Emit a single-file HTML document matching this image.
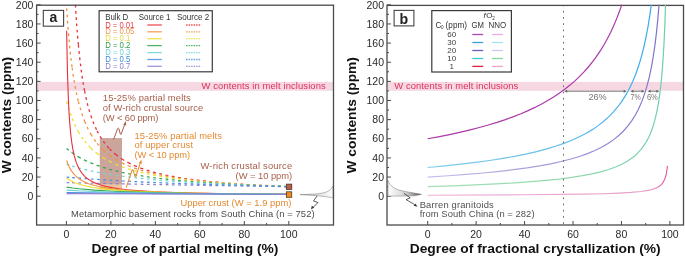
<!DOCTYPE html>
<html><head><meta charset="utf-8"><style>
html,body{margin:0;padding:0;background:#fff;}
svg{display:block;will-change:transform;}
</style></head><body>
<svg width="685" height="257" viewBox="0 0 685 257">
<rect width="685" height="257" fill="#fff"/>
<rect x="37" y="81.9" width="296" height="8.9" fill="#f5d8e2"/>
<rect x="388" y="81.9" width="295" height="8.9" fill="#f5d8e2"/>
<rect x="99.76" y="138.1" width="22.24" height="46.62" fill="#cba59b"/>
<rect x="99.76" y="184.72" width="22.24" height="4.78" fill="#eec49a"/>
<path d="M75.39,4.8 L76.69,24.69 L78.37,44.97 M78.37,44.97 L79.6,57.03 L81.21,70.15 L82.92,81.65 L84.61,91.07 M84.61,91.07 L86.01,97.82 L87.66,104.73 L89.03,109.79 L90.84,115.64 M90.84,115.64 L93.83,123.76 L97.08,130.9 M97.08,130.9 L100,136.23 L103.31,141.29 M103.31,141.29 L106.39,145.3 L109.55,148.84 M109.55,148.84 L112.36,151.6 L115.78,154.56 M115.78,154.56 L118.78,156.84 L122.02,159.04 M122.02,159.04 L125.07,160.91 L128.25,162.66 M128.25,162.66 L134.49,165.63 M134.49,165.63 L140.72,168.12 M140.72,168.12 L146.96,170.24 M146.96,170.24 L153.19,172.05 M153.19,172.05 L159.43,173.63 M159.43,173.63 L165.66,175.02 M165.66,175.02 L171.9,176.25 M171.9,176.25 L178.13,177.34 M178.13,177.34 L184.37,178.32 M184.37,178.32 L190.6,179.2 M190.6,179.2 L196.84,180 M196.84,180 L203.07,180.72 M203.07,180.72 L209.31,181.39 M209.31,181.39 L215.54,182 M215.54,182 L221.78,182.56 M221.78,182.56 L228.01,183.08 M228.01,183.08 L234.25,183.56 M234.25,183.56 L240.48,184.01 M240.48,184.01 L246.72,184.42 M246.72,184.42 L252.95,184.81 M252.95,184.81 L259.19,185.18 M259.19,185.18 L265.42,185.52 M265.42,185.52 L271.66,185.84 M271.66,185.84 L277.89,186.14 M277.89,186.14 L284.12,186.43 M284.12,186.43 L288.8,186.63" fill="none" stroke="#e8303c" stroke-width="1.3" stroke-dasharray="2.7 3.535"/>
<path d="M66.62,8.37 L67.8,25.29 L69.12,40.88 L70.56,55.03 L72.14,67.74 M72.14,67.74 L73.42,76.58 L74.97,85.7 L76.69,94.34 L78.37,101.57 M78.37,101.57 L81.21,111.7 L82.92,116.83 L84.61,121.29 M84.61,121.29 L87.66,128.23 L90.84,134.22 M90.84,134.22 L93.83,138.95 L97.08,143.34 M97.08,143.34 L100,146.75 L103.31,150.11 M103.31,150.11 L106.39,152.86 L109.55,155.35 M109.55,155.35 L112.36,157.35 L115.78,159.52 M115.78,159.52 L122.02,162.92 M122.02,162.92 L128.25,165.74 M128.25,165.74 L134.49,168.12 M134.49,168.12 L140.72,170.16 M140.72,170.16 L146.96,171.92 M146.96,171.92 L153.19,173.45 M153.19,173.45 L159.43,174.81 M159.43,174.81 L165.66,176.01 M165.66,176.01 L171.9,177.08 M171.9,177.08 L178.13,178.05 M178.13,178.05 L184.37,178.92 M184.37,178.92 L190.6,179.71 M190.6,179.71 L196.84,180.44 M196.84,180.44 L203.07,181.1 M203.07,181.1 L209.31,181.71 M209.31,181.71 L215.54,182.27 M215.54,182.27 L221.78,182.79 M221.78,182.79 L228.01,183.27 M228.01,183.27 L234.25,183.72 M234.25,183.72 L240.48,184.14 M240.48,184.14 L246.72,184.53 M246.72,184.53 L252.95,184.9 M252.95,184.9 L259.19,185.24 M259.19,185.24 L265.42,185.57 M265.42,185.57 L271.66,185.87 M271.66,185.87 L277.89,186.16 M277.89,186.16 L284.12,186.43 M284.12,186.43 L288.8,186.63" fill="none" stroke="#f0913e" stroke-width="1.3" stroke-dasharray="2.7 3.535"/>
<path d="M66.62,101.35 L69.23,110.32 L72.14,118.53 M72.14,118.53 L75.17,125.58 L78.37,131.73 M78.37,131.73 L81.49,136.78 L84.61,141.1 M84.61,141.1 L87.66,144.76 L90.84,148.09 M90.84,148.09 L93.83,150.85 L97.08,153.5 M97.08,153.5 L100,155.65 L103.31,157.82 M103.31,157.82 L109.55,161.35 M109.55,161.35 L115.78,164.28 M115.78,164.28 L122.02,166.76 M122.02,166.76 L128.25,168.88 M128.25,168.88 L134.49,170.72 M134.49,170.72 L140.72,172.32 M140.72,172.32 L146.96,173.73 M146.96,173.73 L153.19,174.99 M153.19,174.99 L159.43,176.11 M159.43,176.11 L165.66,177.12 M165.66,177.12 L171.9,178.04 M171.9,178.04 L178.13,178.87 M178.13,178.87 L184.37,179.62 M184.37,179.62 L190.6,180.32 M190.6,180.32 L196.84,180.96 M196.84,180.96 L203.07,181.55 M203.07,181.55 L209.31,182.09 M209.31,182.09 L215.54,182.6 M215.54,182.6 L221.78,183.07 M221.78,183.07 L228.01,183.51 M228.01,183.51 L234.25,183.92 M234.25,183.92 L240.48,184.3 M240.48,184.3 L246.72,184.67 M246.72,184.67 L252.95,185.01 M252.95,185.01 L259.19,185.33 M259.19,185.33 L265.42,185.63 M265.42,185.63 L271.66,185.92 M271.66,185.92 L277.89,186.19 M277.89,186.19 L284.12,186.45 M284.12,186.45 L288.8,186.63" fill="none" stroke="#eedd2e" stroke-width="1.3" stroke-dasharray="2.7 3.535"/>
<path d="M66.62,148.54 L72.14,152.82 M72.14,152.82 L75.17,154.87 L78.37,156.83 M78.37,156.83 L84.61,160.15 M84.61,160.15 L90.84,162.96 M90.84,162.96 L97.08,165.36 M97.08,165.36 L103.31,167.44 M103.31,167.44 L109.55,169.26 M109.55,169.26 L115.78,170.86 M115.78,170.86 L122.02,172.28 M122.02,172.28 L128.25,173.55 M128.25,173.55 L134.49,174.69 M134.49,174.69 L140.72,175.72 M140.72,175.72 L146.96,176.66 M146.96,176.66 L153.19,177.52 M153.19,177.52 L159.43,178.3 M159.43,178.3 L165.66,179.02 M165.66,179.02 L171.9,179.69 M171.9,179.69 L178.13,180.3 M178.13,180.3 L184.37,180.87 M184.37,180.87 L190.6,181.4 M190.6,181.4 L196.84,181.9 M196.84,181.9 L203.07,182.36 M203.07,182.36 L209.31,182.8 M209.31,182.8 L215.54,183.21 M215.54,183.21 L221.78,183.59 M221.78,183.59 L228.01,183.95 M228.01,183.95 L234.25,184.29 M234.25,184.29 L240.48,184.62 M240.48,184.62 L246.72,184.92 M246.72,184.92 L252.95,185.21 M252.95,185.21 L259.19,185.49 M259.19,185.49 L265.42,185.75 M265.42,185.75 L271.66,186 M271.66,186 L277.89,186.24 M277.89,186.24 L284.12,186.47 M284.12,186.47 L288.8,186.63" fill="none" stroke="#2fa84c" stroke-width="1.3" stroke-dasharray="2.7 3.535"/>
<path d="M66.62,164.37 L72.14,166.11 M72.14,166.11 L78.37,167.86 M78.37,167.86 L84.61,169.42 M84.61,169.42 L90.84,170.81 M90.84,170.81 L97.08,172.07 M97.08,172.07 L103.31,173.2 M103.31,173.2 L109.55,174.24 M109.55,174.24 L115.78,175.19 M115.78,175.19 L122.02,176.05 M122.02,176.05 L128.25,176.85 M128.25,176.85 L134.49,177.59 M134.49,177.59 L140.72,178.28 M140.72,178.28 L146.96,178.91 M146.96,178.91 L153.19,179.5 M153.19,179.5 L159.43,180.06 M159.43,180.06 L165.66,180.57 M165.66,180.57 L171.9,181.06 M171.9,181.06 L178.13,181.51 M178.13,181.51 L184.37,181.94 M184.37,181.94 L190.6,182.35 M190.6,182.35 L196.84,182.73 M196.84,182.73 L203.07,183.09 M203.07,183.09 L209.31,183.44 M209.31,183.44 L215.54,183.76 M215.54,183.76 L221.78,184.07 M221.78,184.07 L228.01,184.37 M228.01,184.37 L234.25,184.65 M234.25,184.65 L240.48,184.91 M240.48,184.91 L246.72,185.17 M246.72,185.17 L252.95,185.41 M252.95,185.41 L259.19,185.65 M259.19,185.65 L265.42,185.87 M265.42,185.87 L271.66,186.08 M271.66,186.08 L277.89,186.29 M277.89,186.29 L284.12,186.49 M284.12,186.49 L288.8,186.63" fill="none" stroke="#6fd2d6" stroke-width="1.3" stroke-dasharray="2.7 3.535"/>
<path d="M66.62,182.53 L72.14,182.68 M72.14,182.68 L78.37,182.84 M78.37,182.84 L84.61,182.99 M84.61,182.99 L90.84,183.14 M90.84,183.14 L97.08,183.29 M97.08,183.29 L103.31,183.44 M103.31,183.44 L109.55,183.58 M109.55,183.58 L115.78,183.72 M115.78,183.72 L122.02,183.85 M122.02,183.85 L128.25,183.98 M128.25,183.98 L134.49,184.11 M134.49,184.11 L140.72,184.24 M140.72,184.24 L146.96,184.37 M146.96,184.37 L153.19,184.49 M153.19,184.49 L159.43,184.61 M159.43,184.61 L165.66,184.72 M165.66,184.72 L171.9,184.84 M171.9,184.84 L178.13,184.95 M178.13,184.95 L184.37,185.06 M184.37,185.06 L190.6,185.17 M190.6,185.17 L196.84,185.27 M196.84,185.27 L203.07,185.38 M203.07,185.38 L209.31,185.48 M209.31,185.48 L215.54,185.58 M215.54,185.58 L221.78,185.68 M221.78,185.68 L228.01,185.78 M228.01,185.78 L234.25,185.87 M234.25,185.87 L240.48,185.96 M240.48,185.96 L246.72,186.05 M246.72,186.05 L252.95,186.14 M252.95,186.14 L259.19,186.23 M259.19,186.23 L265.42,186.32 M265.42,186.32 L271.66,186.4 M271.66,186.4 L277.89,186.49 M277.89,186.49 L284.12,186.57 M284.12,186.57 L288.8,186.63" fill="none" stroke="#8f82d2" stroke-width="1.3" stroke-dasharray="2.7 3.535"/>
<path d="M66.62,177.08 L72.14,177.54 M72.14,177.54 L78.37,178.04 M78.37,178.04 L84.61,178.51 M84.61,178.51 L90.84,178.96 M90.84,178.96 L97.08,179.38 M97.08,179.38 L103.31,179.78 M103.31,179.78 L109.55,180.17 M109.55,180.17 L115.78,180.54 M115.78,180.54 L122.02,180.89 M122.02,180.89 L128.25,181.22 M128.25,181.22 L134.49,181.55 M134.49,181.55 L140.72,181.85 M140.72,181.85 L146.96,182.15 M146.96,182.15 L153.19,182.43 M153.19,182.43 L159.43,182.7 M159.43,182.7 L165.66,182.97 M165.66,182.97 L171.9,183.22 M171.9,183.22 L178.13,183.46 M178.13,183.46 L184.37,183.69 M184.37,183.69 L190.6,183.92 M190.6,183.92 L196.84,184.14 M196.84,184.14 L203.07,184.35 M203.07,184.35 L209.31,184.55 M209.31,184.55 L215.54,184.74 M215.54,184.74 L221.78,184.93 M221.78,184.93 L228.01,185.12 M228.01,185.12 L234.25,185.29 M234.25,185.29 L240.48,185.46 M240.48,185.46 L246.72,185.63 M246.72,185.63 L252.95,185.79 M252.95,185.79 L259.19,185.95 M259.19,185.95 L265.42,186.1 M265.42,186.1 L271.66,186.25 M271.66,186.25 L277.89,186.39 M277.89,186.39 L284.12,186.53 M284.12,186.53 L288.8,186.63" fill="none" stroke="#4a90de" stroke-width="1.3" stroke-dasharray="2.7 3.535"/>
<path d="M66.62,30.75 L67.42,71.25 L68.44,100.88 L69.12,113.94 L69.8,123.82 L70.7,133.82 L71.73,142.29 L72.89,149.43 L74.17,155.44 L75.81,161.15 L77.61,165.86 L79.6,169.76 L82.05,173.38 L84.74,176.36 L87.66,178.82 L91.18,181.09 L95.41,183.13 L100,184.81 L105.44,186.31 L111.84,187.63 L118.78,188.72 L127.46,189.75 L136.87,190.58 L147.72,191.31 L160.2,191.95 L191.64,193 L233.29,193.78 L288.8,194.38" fill="none" stroke="#e8303c" stroke-width="1.1"/>
<path d="M66.62,160.51 L67.8,163.73 L69.12,166.69 L70.56,169.38 L72.05,171.67 L73.79,173.91 L75.59,175.83 L77.61,177.63 L79.86,179.29 L82.34,180.8 L85.05,182.18 L88,183.42 L91.18,184.53 L94.61,185.54 L98.72,186.53 L107.36,188.12 L118.23,189.5 L131.13,190.63 L147.02,191.59 L165.62,192.36 L188.1,193.01 L216.04,193.56 L288.8,194.38" fill="none" stroke="#f0913e" stroke-width="1.1"/>
<path d="M66.62,178.18 L70.43,180.57 L74.97,182.7 L80.13,184.51 L86.01,186.06 L93.06,187.45 L100.88,188.61 L109.82,189.6 L120.46,190.5 L132.38,191.25 L146.32,191.91 L181.18,192.98 L227.08,193.78 L288.8,194.38" fill="none" stroke="#eedd2e" stroke-width="1.1"/>
<path d="M66.62,187.14 L72.54,188.01 L79.09,188.8 L94.22,190.14 L112.87,191.25 L135.57,192.15 L163.28,192.88 L197.06,193.49 L238.56,193.98 L288.8,194.38" fill="none" stroke="#2fa84c" stroke-width="1.1"/>
<path d="M66.62,190.15 L82.05,190.99 L100,191.72 L121.02,192.35 L145.62,192.89 L206.38,193.74 L288.8,194.38" fill="none" stroke="#6fd2d6" stroke-width="1.1"/>
<path d="M66.62,192.57 L108.82,193.15 L158.68,193.63 L288.8,194.38" fill="none" stroke="#4a90de" stroke-width="1.1"/>
<path d="M66.62,193.6 L288.8,194.38" fill="none" stroke="#8f82d2" stroke-width="1.1"/>
<rect x="286.3" y="184.1" width="5.5" height="5.5" fill="#bc5e46" stroke="#3a2a20" stroke-width="0.7"/>
<rect x="286.3" y="191.8" width="5.5" height="5.5" fill="#f08c1e" stroke="#3a2a20" stroke-width="0.7"/>
<defs><linearGradient id="ga" x1="1" x2="0" y1="0" y2="0"><stop offset="0" stop-color="#ffffff"/><stop offset="1" stop-color="#bdbdbd"/></linearGradient><linearGradient id="gb" x1="0" x2="1" y1="0" y2="0"><stop offset="0" stop-color="#ffffff"/><stop offset="0.55" stop-color="#d0d0d0"/><stop offset="1" stop-color="#555555"/></linearGradient></defs>
<path d="M333,186 C331,191 326,193 316,194 L300,194.6 L316,195.6 C324,196.5 330,197 333,198 Z" fill="url(#ga)" stroke="#777" stroke-width="0.5"/>
<path d="M317,196 L313.5,201 L318,202.5 L312.5,208" fill="none" stroke="#333" stroke-width="0.8"/>
<path d="M311,209.5 L311.8,205.8 L314.2,207.6 Z" fill="#333"/>
<rect x="36.6" y="5.2" width="296.9" height="219.8" fill="none" stroke="#4a4a4a" stroke-width="1.3"/>
<rect x="387" y="5.4" width="296.5" height="219.6" fill="none" stroke="#4a4a4a" stroke-width="1.3"/>
<line x1="36.6" y1="196.2" x2="40.6" y2="196.2" stroke="#4a4a4a" stroke-width="1"/>
<line x1="36.6" y1="186.63" x2="38.6" y2="186.63" stroke="#4a4a4a" stroke-width="1"/>
<line x1="36.6" y1="177.06" x2="40.6" y2="177.06" stroke="#4a4a4a" stroke-width="1"/>
<line x1="36.6" y1="167.49" x2="38.6" y2="167.49" stroke="#4a4a4a" stroke-width="1"/>
<line x1="36.6" y1="157.92" x2="40.6" y2="157.92" stroke="#4a4a4a" stroke-width="1"/>
<line x1="36.6" y1="148.35" x2="38.6" y2="148.35" stroke="#4a4a4a" stroke-width="1"/>
<line x1="36.6" y1="138.78" x2="40.6" y2="138.78" stroke="#4a4a4a" stroke-width="1"/>
<line x1="36.6" y1="129.21" x2="38.6" y2="129.21" stroke="#4a4a4a" stroke-width="1"/>
<line x1="36.6" y1="119.64" x2="40.6" y2="119.64" stroke="#4a4a4a" stroke-width="1"/>
<line x1="36.6" y1="110.07" x2="38.6" y2="110.07" stroke="#4a4a4a" stroke-width="1"/>
<line x1="36.6" y1="100.5" x2="40.6" y2="100.5" stroke="#4a4a4a" stroke-width="1"/>
<line x1="36.6" y1="90.93" x2="38.6" y2="90.93" stroke="#4a4a4a" stroke-width="1"/>
<line x1="36.6" y1="81.36" x2="40.6" y2="81.36" stroke="#4a4a4a" stroke-width="1"/>
<line x1="36.6" y1="71.79" x2="38.6" y2="71.79" stroke="#4a4a4a" stroke-width="1"/>
<line x1="36.6" y1="62.22" x2="40.6" y2="62.22" stroke="#4a4a4a" stroke-width="1"/>
<line x1="36.6" y1="52.65" x2="38.6" y2="52.65" stroke="#4a4a4a" stroke-width="1"/>
<line x1="36.6" y1="43.08" x2="40.6" y2="43.08" stroke="#4a4a4a" stroke-width="1"/>
<line x1="36.6" y1="33.51" x2="38.6" y2="33.51" stroke="#4a4a4a" stroke-width="1"/>
<line x1="36.6" y1="23.94" x2="40.6" y2="23.94" stroke="#4a4a4a" stroke-width="1"/>
<line x1="36.6" y1="14.37" x2="38.6" y2="14.37" stroke="#4a4a4a" stroke-width="1"/>
<line x1="36.6" y1="4.8" x2="40.6" y2="4.8" stroke="#4a4a4a" stroke-width="1"/>
<line x1="387" y1="196.2" x2="391" y2="196.2" stroke="#4a4a4a" stroke-width="1"/>
<line x1="387" y1="186.63" x2="389" y2="186.63" stroke="#4a4a4a" stroke-width="1"/>
<line x1="387" y1="177.06" x2="391" y2="177.06" stroke="#4a4a4a" stroke-width="1"/>
<line x1="387" y1="167.49" x2="389" y2="167.49" stroke="#4a4a4a" stroke-width="1"/>
<line x1="387" y1="157.92" x2="391" y2="157.92" stroke="#4a4a4a" stroke-width="1"/>
<line x1="387" y1="148.35" x2="389" y2="148.35" stroke="#4a4a4a" stroke-width="1"/>
<line x1="387" y1="138.78" x2="391" y2="138.78" stroke="#4a4a4a" stroke-width="1"/>
<line x1="387" y1="129.21" x2="389" y2="129.21" stroke="#4a4a4a" stroke-width="1"/>
<line x1="387" y1="119.64" x2="391" y2="119.64" stroke="#4a4a4a" stroke-width="1"/>
<line x1="387" y1="110.07" x2="389" y2="110.07" stroke="#4a4a4a" stroke-width="1"/>
<line x1="387" y1="100.5" x2="391" y2="100.5" stroke="#4a4a4a" stroke-width="1"/>
<line x1="387" y1="90.93" x2="389" y2="90.93" stroke="#4a4a4a" stroke-width="1"/>
<line x1="387" y1="81.36" x2="391" y2="81.36" stroke="#4a4a4a" stroke-width="1"/>
<line x1="387" y1="71.79" x2="389" y2="71.79" stroke="#4a4a4a" stroke-width="1"/>
<line x1="387" y1="62.22" x2="391" y2="62.22" stroke="#4a4a4a" stroke-width="1"/>
<line x1="387" y1="52.65" x2="389" y2="52.65" stroke="#4a4a4a" stroke-width="1"/>
<line x1="387" y1="43.08" x2="391" y2="43.08" stroke="#4a4a4a" stroke-width="1"/>
<line x1="387" y1="33.51" x2="389" y2="33.51" stroke="#4a4a4a" stroke-width="1"/>
<line x1="387" y1="23.94" x2="391" y2="23.94" stroke="#4a4a4a" stroke-width="1"/>
<line x1="387" y1="14.37" x2="389" y2="14.37" stroke="#4a4a4a" stroke-width="1"/>
<line x1="387" y1="4.8" x2="391" y2="4.8" stroke="#4a4a4a" stroke-width="1"/>
<line x1="66.4" y1="225" x2="66.4" y2="221" stroke="#4a4a4a" stroke-width="1"/>
<line x1="88.64" y1="225" x2="88.64" y2="223" stroke="#4a4a4a" stroke-width="1"/>
<line x1="110.88" y1="225" x2="110.88" y2="221" stroke="#4a4a4a" stroke-width="1"/>
<line x1="133.12" y1="225" x2="133.12" y2="223" stroke="#4a4a4a" stroke-width="1"/>
<line x1="155.36" y1="225" x2="155.36" y2="221" stroke="#4a4a4a" stroke-width="1"/>
<line x1="177.6" y1="225" x2="177.6" y2="223" stroke="#4a4a4a" stroke-width="1"/>
<line x1="199.84" y1="225" x2="199.84" y2="221" stroke="#4a4a4a" stroke-width="1"/>
<line x1="222.08" y1="225" x2="222.08" y2="223" stroke="#4a4a4a" stroke-width="1"/>
<line x1="244.32" y1="225" x2="244.32" y2="221" stroke="#4a4a4a" stroke-width="1"/>
<line x1="266.56" y1="225" x2="266.56" y2="223" stroke="#4a4a4a" stroke-width="1"/>
<line x1="288.8" y1="225" x2="288.8" y2="221" stroke="#4a4a4a" stroke-width="1"/>
<line x1="427.7" y1="225" x2="427.7" y2="221" stroke="#4a4a4a" stroke-width="1"/>
<line x1="451.92" y1="225" x2="451.92" y2="223" stroke="#4a4a4a" stroke-width="1"/>
<line x1="476.14" y1="225" x2="476.14" y2="221" stroke="#4a4a4a" stroke-width="1"/>
<line x1="500.36" y1="225" x2="500.36" y2="223" stroke="#4a4a4a" stroke-width="1"/>
<line x1="524.58" y1="225" x2="524.58" y2="221" stroke="#4a4a4a" stroke-width="1"/>
<line x1="548.8" y1="225" x2="548.8" y2="223" stroke="#4a4a4a" stroke-width="1"/>
<line x1="573.02" y1="225" x2="573.02" y2="221" stroke="#4a4a4a" stroke-width="1"/>
<line x1="597.24" y1="225" x2="597.24" y2="223" stroke="#4a4a4a" stroke-width="1"/>
<line x1="621.46" y1="225" x2="621.46" y2="221" stroke="#4a4a4a" stroke-width="1"/>
<line x1="645.68" y1="225" x2="645.68" y2="223" stroke="#4a4a4a" stroke-width="1"/>
<line x1="669.9" y1="225" x2="669.9" y2="221" stroke="#4a4a4a" stroke-width="1"/>
<text x="33.4" y="199.9" text-anchor="end" font-family="Liberation Sans" font-size="10.5" fill="#2a2a2a">0</text>
<text x="33.4" y="180.76" text-anchor="end" font-family="Liberation Sans" font-size="10.5" fill="#2a2a2a">20</text>
<text x="33.4" y="161.62" text-anchor="end" font-family="Liberation Sans" font-size="10.5" fill="#2a2a2a">40</text>
<text x="33.4" y="142.48" text-anchor="end" font-family="Liberation Sans" font-size="10.5" fill="#2a2a2a">60</text>
<text x="33.4" y="123.34" text-anchor="end" font-family="Liberation Sans" font-size="10.5" fill="#2a2a2a">80</text>
<text x="33.4" y="104.2" text-anchor="end" font-family="Liberation Sans" font-size="10.5" fill="#2a2a2a">100</text>
<text x="33.4" y="85.06" text-anchor="end" font-family="Liberation Sans" font-size="10.5" fill="#2a2a2a">120</text>
<text x="33.4" y="65.92" text-anchor="end" font-family="Liberation Sans" font-size="10.5" fill="#2a2a2a">140</text>
<text x="33.4" y="46.78" text-anchor="end" font-family="Liberation Sans" font-size="10.5" fill="#2a2a2a">160</text>
<text x="33.4" y="27.64" text-anchor="end" font-family="Liberation Sans" font-size="10.5" fill="#2a2a2a">180</text>
<text x="33.4" y="8.5" text-anchor="end" font-family="Liberation Sans" font-size="10.5" fill="#2a2a2a">200</text>
<text x="384" y="199.9" text-anchor="end" font-family="Liberation Sans" font-size="10.5" fill="#2a2a2a">0</text>
<text x="384" y="180.76" text-anchor="end" font-family="Liberation Sans" font-size="10.5" fill="#2a2a2a">20</text>
<text x="384" y="161.62" text-anchor="end" font-family="Liberation Sans" font-size="10.5" fill="#2a2a2a">40</text>
<text x="384" y="142.48" text-anchor="end" font-family="Liberation Sans" font-size="10.5" fill="#2a2a2a">60</text>
<text x="384" y="123.34" text-anchor="end" font-family="Liberation Sans" font-size="10.5" fill="#2a2a2a">80</text>
<text x="384" y="104.2" text-anchor="end" font-family="Liberation Sans" font-size="10.5" fill="#2a2a2a">100</text>
<text x="384" y="85.06" text-anchor="end" font-family="Liberation Sans" font-size="10.5" fill="#2a2a2a">120</text>
<text x="384" y="65.92" text-anchor="end" font-family="Liberation Sans" font-size="10.5" fill="#2a2a2a">140</text>
<text x="384" y="46.78" text-anchor="end" font-family="Liberation Sans" font-size="10.5" fill="#2a2a2a">160</text>
<text x="384" y="27.64" text-anchor="end" font-family="Liberation Sans" font-size="10.5" fill="#2a2a2a">180</text>
<text x="384" y="8.5" text-anchor="end" font-family="Liberation Sans" font-size="10.5" fill="#2a2a2a">200</text>
<text x="66.4" y="237.6" text-anchor="middle" font-family="Liberation Sans" font-size="10.5" fill="#2a2a2a">0</text>
<text x="427.7" y="237.6" text-anchor="middle" font-family="Liberation Sans" font-size="10.5" fill="#2a2a2a">0</text>
<text x="110.88" y="237.6" text-anchor="middle" font-family="Liberation Sans" font-size="10.5" fill="#2a2a2a">20</text>
<text x="476.14" y="237.6" text-anchor="middle" font-family="Liberation Sans" font-size="10.5" fill="#2a2a2a">20</text>
<text x="155.36" y="237.6" text-anchor="middle" font-family="Liberation Sans" font-size="10.5" fill="#2a2a2a">40</text>
<text x="524.58" y="237.6" text-anchor="middle" font-family="Liberation Sans" font-size="10.5" fill="#2a2a2a">40</text>
<text x="199.84" y="237.6" text-anchor="middle" font-family="Liberation Sans" font-size="10.5" fill="#2a2a2a">60</text>
<text x="573.02" y="237.6" text-anchor="middle" font-family="Liberation Sans" font-size="10.5" fill="#2a2a2a">60</text>
<text x="244.32" y="237.6" text-anchor="middle" font-family="Liberation Sans" font-size="10.5" fill="#2a2a2a">80</text>
<text x="621.46" y="237.6" text-anchor="middle" font-family="Liberation Sans" font-size="10.5" fill="#2a2a2a">80</text>
<text x="288.8" y="237.6" text-anchor="middle" font-family="Liberation Sans" font-size="10.5" fill="#2a2a2a">100</text>
<text x="669.9" y="237.6" text-anchor="middle" font-family="Liberation Sans" font-size="10.5" fill="#2a2a2a">100</text>
<text x="91.4" y="253.2" textLength="187" lengthAdjust="spacingAndGlyphs" font-family="Liberation Sans" font-weight="bold" font-size="12.3" fill="#111">Degree of partial melting (%)</text>
<text x="409.7" y="253.2" textLength="251" lengthAdjust="spacingAndGlyphs" font-family="Liberation Sans" font-weight="bold" font-size="12.3" fill="#111">Degree of fractional crystallization (%)</text>
<text transform="translate(10.5,115) rotate(-90)" text-anchor="middle" textLength="116.4" lengthAdjust="spacingAndGlyphs" font-family="Liberation Sans" font-weight="bold" font-size="11.9" fill="#111">W contents (ppm)</text>
<text transform="translate(355.5,115.3) rotate(-90)" text-anchor="middle" textLength="116.4" lengthAdjust="spacingAndGlyphs" font-family="Liberation Sans" font-weight="bold" font-size="11.9" fill="#111">W contents (ppm)</text>
<rect x="43.3" y="10.4" width="20.3" height="15.8" fill="#fff" stroke="#444" stroke-width="1.1"/>
<text x="53.4" y="21.5" text-anchor="middle" font-family="Liberation Sans" font-weight="bold" font-size="14" fill="#222">a</text>
<rect x="99.1" y="10.7" width="113.2" height="61.1" fill="#fff" stroke="#3a3a3a" stroke-width="1.2"/>
<text x="105.2" y="19.8" textLength="23.1" lengthAdjust="spacingAndGlyphs" font-family="Liberation Sans" font-size="8.7" fill="#333">Bulk D</text>
<text x="138.7" y="19.8" textLength="31.8" lengthAdjust="spacingAndGlyphs" font-family="Liberation Sans" font-size="8.7" fill="#333">Source 1</text>
<text x="177" y="19.8" textLength="32.1" lengthAdjust="spacingAndGlyphs" font-family="Liberation Sans" font-size="8.7" fill="#333">Source 2</text>
<text x="105.2" y="27.6" textLength="29.2" lengthAdjust="spacingAndGlyphs" font-family="Liberation Sans" font-size="8.7" fill="#e23a48">D = 0.01</text>
<line x1="147.3" y1="25.00" x2="161.8" y2="25.00" stroke="#e8303c" stroke-width="1.3" stroke-opacity="0.85"/>
<line x1="186.1" y1="25.00" x2="201.2" y2="25.00" stroke="#e8303c" stroke-width="1.3" stroke-opacity="0.85" stroke-dasharray="1.5 1"/>
<text x="105.2" y="34.4" textLength="29.2" lengthAdjust="spacingAndGlyphs" font-family="Liberation Sans" font-size="8.7" fill="#ec9450">D = 0.05</text>
<line x1="147.3" y1="31.80" x2="161.8" y2="31.80" stroke="#f0913e" stroke-width="1.3" stroke-opacity="0.85"/>
<line x1="186.1" y1="31.80" x2="201.2" y2="31.80" stroke="#f0913e" stroke-width="1.3" stroke-opacity="0.85" stroke-dasharray="1.5 1"/>
<text x="105.2" y="41.3" textLength="25.2" lengthAdjust="spacingAndGlyphs" font-family="Liberation Sans" font-size="8.7" fill="#e8d63c">D = 0.1</text>
<line x1="147.3" y1="38.70" x2="161.8" y2="38.70" stroke="#eedd2e" stroke-width="1.3" stroke-opacity="0.85"/>
<line x1="186.1" y1="38.70" x2="201.2" y2="38.70" stroke="#eedd2e" stroke-width="1.3" stroke-opacity="0.85" stroke-dasharray="1.5 1"/>
<text x="105.2" y="48.2" textLength="25.2" lengthAdjust="spacingAndGlyphs" font-family="Liberation Sans" font-size="8.7" fill="#2d9a4a">D = 0.2</text>
<line x1="147.3" y1="45.60" x2="161.8" y2="45.60" stroke="#2fa84c" stroke-width="1.3" stroke-opacity="0.85"/>
<line x1="186.1" y1="45.60" x2="201.2" y2="45.60" stroke="#2fa84c" stroke-width="1.3" stroke-opacity="0.85" stroke-dasharray="1.5 1"/>
<text x="105.2" y="55.2" textLength="25.2" lengthAdjust="spacingAndGlyphs" font-family="Liberation Sans" font-size="8.7" fill="#74d0d6">D = 0.3</text>
<line x1="147.3" y1="52.60" x2="161.8" y2="52.60" stroke="#6fd2d6" stroke-width="1.3" stroke-opacity="0.85"/>
<line x1="186.1" y1="52.60" x2="201.2" y2="52.60" stroke="#6fd2d6" stroke-width="1.3" stroke-opacity="0.85" stroke-dasharray="1.5 1"/>
<text x="105.2" y="62.1" textLength="25.2" lengthAdjust="spacingAndGlyphs" font-family="Liberation Sans" font-size="8.7" fill="#3a8ad8">D = 0.5</text>
<line x1="147.3" y1="59.50" x2="161.8" y2="59.50" stroke="#4a90de" stroke-width="1.3" stroke-opacity="0.85"/>
<line x1="186.1" y1="59.50" x2="201.2" y2="59.50" stroke="#4a90de" stroke-width="1.3" stroke-opacity="0.85" stroke-dasharray="1.5 1"/>
<text x="105.2" y="68.9" textLength="25.2" lengthAdjust="spacingAndGlyphs" font-family="Liberation Sans" font-size="8.7" fill="#8a7cc8">D = 0.7</text>
<line x1="147.3" y1="66.30" x2="161.8" y2="66.30" stroke="#8f82d2" stroke-width="1.3" stroke-opacity="0.85"/>
<line x1="186.1" y1="66.30" x2="201.2" y2="66.30" stroke="#8f82d2" stroke-width="1.3" stroke-opacity="0.85" stroke-dasharray="1.5 1"/>
<text x="102.8" y="101.2" textLength="88" lengthAdjust="spacing" font-family="Liberation Sans" font-size="9.4" fill="#a8604c">15-25% partial melts</text>
<text x="102.8" y="111.1" textLength="100.4" lengthAdjust="spacing" font-family="Liberation Sans" font-size="9.4" fill="#a8604c">of W-rich crustal source</text>
<text x="102.8" y="121.1" textLength="55.6" lengthAdjust="spacing" font-family="Liberation Sans" font-size="9.4" fill="#a8604c">(W &lt; 60 ppm)</text>
<text x="134.5" y="138.6" textLength="87.5" lengthAdjust="spacing" font-family="Liberation Sans" font-size="9.4" fill="#e58a32">15-25% partial melts</text>
<text x="134.5" y="148" textLength="58.5" lengthAdjust="spacing" font-family="Liberation Sans" font-size="9.4" fill="#e58a32">of upper crust</text>
<text x="134.5" y="158" textLength="55.5" lengthAdjust="spacing" font-family="Liberation Sans" font-size="9.4" fill="#e58a32">(W &lt; 10 ppm)</text>
<text x="200.5" y="169.3" textLength="91.6" lengthAdjust="spacing" font-family="Liberation Sans" font-size="9.4" fill="#a8604c">W-rich crustal source</text>
<text x="235.6" y="179.1" textLength="56.5" lengthAdjust="spacing" font-family="Liberation Sans" font-size="9.4" fill="#a8604c">(W = 10 ppm)</text>
<text x="180.4" y="206.1" textLength="111" lengthAdjust="spacing" font-family="Liberation Sans" font-size="9.4" fill="#e58a32">Upper crust (W = 1.9 ppm)</text>
<text x="71" y="217.1" textLength="243.6" lengthAdjust="spacing" font-family="Liberation Sans" font-size="9.4" fill="#4a4a4a">Metamorphic basement rocks from South China (n = 752)</text>
<text x="201.6" y="88.9" textLength="124.1" lengthAdjust="spacing" font-family="Liberation Sans" font-size="9.4" fill="#e0305c">W contents in melt inclusions</text>
<text x="394.2" y="88.9" textLength="124.1" lengthAdjust="spacing" font-family="Liberation Sans" font-size="9.4" fill="#e0305c">W contents in melt inclusions</text>
<path d="M113.6,139.5 L117.6,128.6 Q118.3,127.4 118.9,128.6 L120.3,134 Q120.7,135 121.2,134 L124.9,124" fill="none" stroke="#a8604c" stroke-width="1" stroke-linejoin="round"/>
<path d="M125.9,121.1 L123.3,124.5 L126.2,125.4 Z" fill="#a8604c"/>
<path d="M126.2,187.6 L132,170.3 Q132.6,169 133.2,170.3 L134.9,176.2 Q135.4,177.4 136,176.2 L140.2,163.2" fill="none" stroke="#e58a32" stroke-width="1.05" stroke-linejoin="round"/>
<path d="M141.5,159.6 L138.8,163 L141.7,163.9 Z" fill="#e58a32"/>
<rect x="394.1" y="10.4" width="19.8" height="15.5" fill="#fff" stroke="#444" stroke-width="1.1"/>
<text x="403.8" y="23.5" text-anchor="middle" font-family="Liberation Sans" font-weight="bold" font-size="14.2" fill="#222">b</text>
<path d="M388,180.5 C390,186 394,189 402,190.8 C410,192.5 417,193.5 421.5,194.3 L416,195.6 C412,196 405,196.1 388,196.1 Z" fill="url(#gb)" stroke="#777" stroke-width="0.5"/>
<path d="M403.8,193.2 L410.2,197.8 L406.1,199.6 L414.5,204.5" fill="none" stroke="#333" stroke-width="0.8"/>
<path d="M417.4,206.7 L413.6,205.8 L415.4,203.4 Z" fill="#333"/>
<text x="419.7" y="207.9" textLength="74" lengthAdjust="spacing" font-family="Liberation Sans" font-size="9.4" fill="#505050">Barren granitoids</text>
<text x="419.7" y="217.4" textLength="114.8" lengthAdjust="spacing" font-family="Liberation Sans" font-size="9.4" fill="#505050">from South China (n = 282)</text>
<path d="M427.7,138.78 L439.51,136.6 L449.55,134.59 L460.7,132.16 L470.16,129.91 L479.36,127.54 L488.3,125.04 L496.98,122.4 L505.4,119.6 L513.57,116.64 L520.37,113.96 L528.07,110.65 L534.47,107.66 L541.71,103.96 L547.73,100.59 L553.57,97.04 L559.24,93.28 L564.73,89.3 L570.05,85.09 L575.21,80.61 L579.37,76.67 L584.22,71.67 L588.14,67.25 L592.69,61.63 L596.36,56.66 L600.61,50.32 L604.04,44.7 L607.36,38.75 L610.58,32.43 L613.69,25.73 L616.69,18.61 L619.02,12.59 L621.78,4.8" fill="none" stroke="#aa38aa" stroke-width="1.2"/>
<defs><linearGradient id="gblue" gradientUnits="userSpaceOnUse" x1="427.7" y1="0" x2="668" y2="0"><stop offset="0" stop-color="#84cdea"/><stop offset="0.55" stop-color="#62bde8"/><stop offset="0.85" stop-color="#3eaeea"/><stop offset="1" stop-color="#2aa6ee"/></linearGradient></defs>
<path d="M427.7,167.49 L445.28,165.85 L460.7,164.21 L475.45,162.43 L489.56,160.5 L503.02,158.39 L514.71,156.31 L525.89,154.04 L536.56,151.57 L546.74,148.88 L555.48,146.23 L563.83,143.35 L571.79,140.22 L579.37,136.79 L585.8,133.46 L592.69,129.38 L598.51,125.39 L604.04,121.04 L608.66,116.89 L613.69,111.71 L617.86,106.75 L621.84,101.34 L625.62,95.42 L629.2,88.93 L632.6,81.8 L635.8,73.95 L638.41,66.56 L641.27,57.08 L643.59,48.12 L645.78,38.3 L647.85,27.5 L649.79,15.61 L651.31,4.8" fill="none" stroke="url(#gblue)" stroke-width="1.2"/>
<defs><linearGradient id="glav" gradientUnits="userSpaceOnUse" x1="427.7" y1="0" x2="668" y2="0"><stop offset="0" stop-color="#c6bee9"/><stop offset="0.55" stop-color="#a496d8"/><stop offset="0.85" stop-color="#8c7ad2"/><stop offset="1" stop-color="#7e6ccc"/></linearGradient></defs>
<path d="M427.7,177.06 L448.13,175.77 L466.14,174.44 L483.22,172.98 L499.41,171.36 L513.57,169.71 L526.98,167.89 L539.67,165.87 L550.67,163.82 L561.09,161.54 L570.92,159.02 L579.37,156.47 L587.36,153.65 L594.9,150.52 L602,147.02 L608.01,143.52 L613.69,139.63 L619.02,135.28 L623.48,130.99 L627.69,126.22 L631.65,120.92 L635.36,115 L638.41,109.24 L641.67,101.89 L644.34,94.68 L646.83,86.65 L649.15,77.66 L651.32,67.59 L653.04,57.95 L654.91,45.38 L656.38,33.31 L657.75,19.89 L659.02,4.8" fill="none" stroke="url(#glav)" stroke-width="1.2"/>
<defs><linearGradient id="ggrn" gradientUnits="userSpaceOnUse" x1="427.7" y1="0" x2="668" y2="0"><stop offset="0" stop-color="#a6deb6"/><stop offset="0.6" stop-color="#92d8ac"/><stop offset="0.9" stop-color="#76d2a8"/><stop offset="1" stop-color="#6ccfa8"/></linearGradient></defs>
<path d="M427.7,186.63 L452.37,185.83 L475.45,184.93 L495.75,183.96 L514.71,182.86 L531.29,181.69 L545.74,180.45 L559.24,179.03 L571.79,177.42 L582.62,175.71 L591.94,173.91 L600.61,171.86 L608.66,169.51 L615.5,167.04 L621.84,164.22 L627.69,160.97 L632.6,157.56 L634.91,155.68 L637.12,153.65 L640.88,149.61 L644.34,144.98 L647.51,139.66 L650.1,134.23 L652.48,128.02 L654.65,120.91 L656.62,112.72 L658.4,103.28 L659.8,93.83 L661.06,83.11 L662.19,70.98 L663.19,57.3 L664.07,41.99 L664.83,25.07 L665.53,4.8" fill="none" stroke="url(#ggrn)" stroke-width="1.2"/>
<defs><linearGradient id="gpink" gradientUnits="userSpaceOnUse" x1="427.7" y1="0" x2="668" y2="0"><stop offset="0" stop-color="#ecb0d6"/><stop offset="0.9" stop-color="#e8a0ca"/><stop offset="0.96" stop-color="#e47ab2"/><stop offset="1" stop-color="#de5292"/></linearGradient></defs>
<path d="M427.7,195.24 L522.59,194.81 L582.62,194.14 L603.37,193.68 L619.02,193.12 L631.17,192.42 L640.88,191.5 L648.18,190.36 L651.02,189.71 L653.59,188.96 L655.9,188.08 L657.75,187.17 L659.6,185.98 L661.06,184.74 L662.34,183.31 L663.45,181.68 L664.41,179.83 L665.21,177.76 L665.95,175.25 L666.52,172.65 L667.48,165.94" fill="none" stroke="url(#gpink)" stroke-width="1.1"/>
<line x1="563.5" y1="6" x2="563.5" y2="224" stroke="#666" stroke-width="0.95" stroke-dasharray="1.75 4.47" stroke-dashoffset="1.42"/>
<line x1="566.2" y1="91.2" x2="624.7" y2="91.2" stroke="#666" stroke-width="0.9"/><path d="M564.2,91.2 L567.2,89.7 L567.2,92.7 Z" fill="#666"/><path d="M626.7,91.2 L623.7,89.7 L623.7,92.7 Z" fill="#666"/>
<line x1="632.4" y1="91.2" x2="642.6" y2="91.2" stroke="#666" stroke-width="0.9"/><path d="M630.4,91.2 L633.4,89.7 L633.4,92.7 Z" fill="#666"/><path d="M644.6,91.2 L641.6,89.7 L641.6,92.7 Z" fill="#666"/>
<line x1="649.6" y1="91.2" x2="657.4" y2="91.2" stroke="#666" stroke-width="0.9"/><path d="M647.6,91.2 L650.6,89.7 L650.6,92.7 Z" fill="#666"/><path d="M659.4,91.2 L656.4,89.7 L656.4,92.7 Z" fill="#666"/>
<text x="588.4" y="100.2" textLength="18.4" lengthAdjust="spacingAndGlyphs" font-family="Liberation Sans" font-size="9.6" fill="#777">26%</text>
<text x="630.6" y="100.2" textLength="10.1" lengthAdjust="spacingAndGlyphs" font-family="Liberation Sans" font-size="9.6" fill="#777">7%</text>
<text x="646.9" y="100.2" textLength="10.9" lengthAdjust="spacingAndGlyphs" font-family="Liberation Sans" font-size="9.6" fill="#777">6%</text>
<rect x="431.8" y="10.6" width="79.6" height="61.4" fill="#fff" stroke="#3a3a3a" stroke-width="1.2"/>
<text x="435.5" y="28.1" font-family="Liberation Sans" font-size="8.2" fill="#333">C</text>
<text x="440.9" y="29.3" font-family="Liberation Sans" font-size="4.6" fill="#333">0</text>
<text x="445.6" y="28.1" textLength="21.4" lengthAdjust="spacingAndGlyphs" font-family="Liberation Sans" font-size="8.2" fill="#333">(ppm)</text>
<text x="483.6" y="17.9" font-family="Liberation Sans" font-style="italic" font-size="8" fill="#333">f</text>
<text x="486.2" y="17.9" font-family="Liberation Sans" font-size="8" fill="#333">O</text>
<text x="492.3" y="19.8" font-family="Liberation Sans" font-size="4.6" fill="#333">2</text>
<text x="471.6" y="28.1" textLength="12.4" lengthAdjust="spacingAndGlyphs" font-family="Liberation Sans" font-size="8.2" fill="#333">GM</text>
<text x="488.4" y="28.1" textLength="17.7" lengthAdjust="spacingAndGlyphs" font-family="Liberation Sans" font-size="8.2" fill="#333">NNO</text>
<text x="451.7" y="37" text-anchor="middle" font-family="Liberation Sans" font-size="8" fill="#3c3c3c">60</text>
<line x1="472.3" y1="34.5" x2="483.2" y2="34.5" stroke="#b044b0" stroke-width="1.3"/>
<line x1="492" y1="34.5" x2="502.9" y2="34.5" stroke="#e6aee4" stroke-width="1.3"/>
<text x="451.7" y="45" text-anchor="middle" font-family="Liberation Sans" font-size="8" fill="#3c3c3c">30</text>
<line x1="472.3" y1="42.5" x2="483.2" y2="42.5" stroke="#3b9ee0" stroke-width="1.3"/>
<line x1="492" y1="42.5" x2="502.9" y2="42.5" stroke="#a6e2f2" stroke-width="1.3"/>
<text x="451.7" y="53" text-anchor="middle" font-family="Liberation Sans" font-size="8" fill="#3c3c3c">20</text>
<line x1="472.3" y1="50.5" x2="483.2" y2="50.5" stroke="#6a5cc0" stroke-width="1.3"/>
<line x1="492" y1="50.5" x2="502.9" y2="50.5" stroke="#cfc6ee" stroke-width="1.3"/>
<text x="451.7" y="61" text-anchor="middle" font-family="Liberation Sans" font-size="8" fill="#3c3c3c">10</text>
<line x1="472.3" y1="58.5" x2="483.2" y2="58.5" stroke="#3cc8cc" stroke-width="1.3"/>
<line x1="492" y1="58.5" x2="502.9" y2="58.5" stroke="#86d8a0" stroke-width="1.3"/>
<text x="451.7" y="68.9" text-anchor="middle" font-family="Liberation Sans" font-size="8" fill="#3c3c3c">1</text>
<line x1="472.3" y1="66.4" x2="483.2" y2="66.4" stroke="#e0203c" stroke-width="1.3"/>
<line x1="492" y1="66.4" x2="502.9" y2="66.4" stroke="#f0a6cc" stroke-width="1.3"/>
</svg>
</body></html>
